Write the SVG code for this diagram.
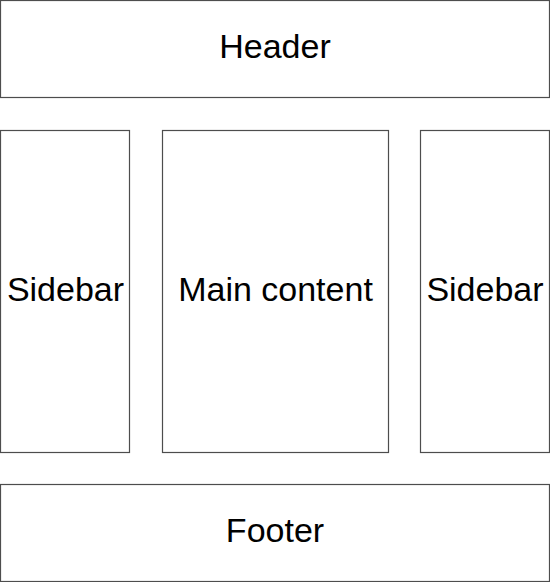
<svg xmlns="http://www.w3.org/2000/svg" width="550" height="582" viewBox="0 0 550 582">
<style>
.box{fill:#ffffff;stroke:#4d4d4d;stroke-width:1.2}
.lbl{font-family:"Liberation Sans",Arial,sans-serif;font-size:34px;fill:#000000;text-anchor:middle}
</style>
<rect width="550" height="582" fill="#ffffff"/>
<g id="connectors"></g>
<g id="header">
<rect class="box" x="0.5" y="0.5" width="549" height="97"/>
<text class="lbl" x="275" y="58">Header</text>
</g>
<g id="sidebar-left">
<rect class="box" x="0.5" y="130.5" width="129" height="322"/>
<text class="lbl" x="65.5" y="301">Sidebar</text>
</g>
<g id="main-content">
<rect class="box" x="162.5" y="130.5" width="226" height="322"/>
<text class="lbl" x="275.5" y="301">Main content</text>
</g>
<g id="sidebar-right">
<rect class="box" x="420.5" y="130.5" width="129" height="322"/>
<text class="lbl" x="485" y="301">Sidebar</text>
</g>
<g id="footer">
<rect class="box" x="0.5" y="484.5" width="549" height="97"/>
<text class="lbl" x="275" y="542">Footer</text>
</g>
</svg>
